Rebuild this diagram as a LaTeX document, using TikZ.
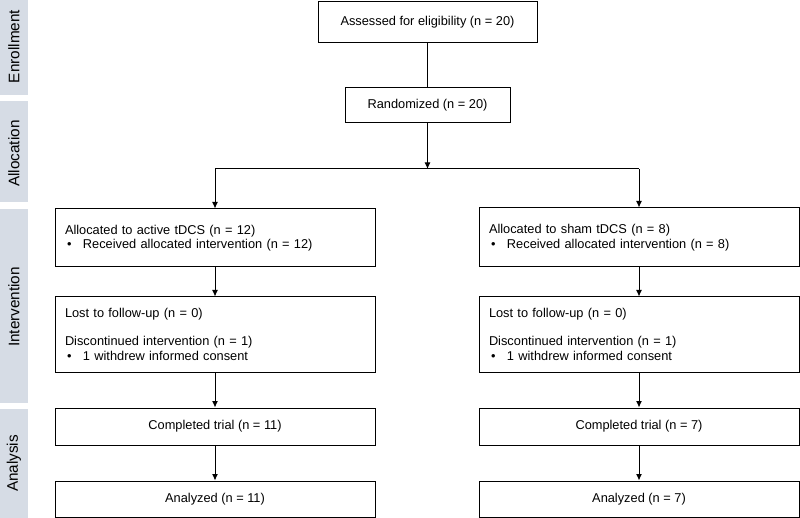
\documentclass[tikz,border=0pt]{standalone}
\usepackage{fontspec}
\setmainfont{Liberation Sans}
\usetikzlibrary{arrows.meta}
\definecolor{bandcol}{RGB}{214,220,229}
\newcommand{\bodyfont}{\fontsize{12.8}{14.5}\selectfont}
\tikzset{
  band/.style={fill=bandcol, draw=none},
  bandlabel/.style={rotate=90, font=\fontsize{15.3}{17}\selectfont},
  box/.style={draw=black, line width=1pt, inner sep=0pt, font=\bodyfont, align=center},
  lbox/.style={box, align=left, text width=300pt, minimum width=320pt},
  arr/.style={line width=1pt, -{Latex[length=6.5pt,width=6pt]}},
  ln/.style={line width=1pt}
}
\newcommand{\bul}{\hspace*{2pt}\makebox[16pt][l]{\textbullet}}
\begin{document}
\begin{tikzpicture}[x=1pt,y=-1pt]
\useasboundingbox (0,0) rectangle (800,518);
% side bands
\fill[band] (0,0) rectangle (28,95);
\fill[band] (0,101) rectangle (28,202);
\fill[band] (0,209) rectangle (28,403);
\fill[band] (0,409) rectangle (28,518);
\node[bandlabel] (lenr) at (14,46.5) {Enrollment};
\node[bandlabel] (lall) at (14,153.5) {Allocation};
\node[bandlabel] (lint) at (14,307) {Intervention};
\node[bandlabel] (lana) at (14,463.5) {Analysis};
% boxes
\node[box, minimum width=219pt, minimum height=41pt] (assess) at (427.5,22.5) {Assessed for eligibility (n = 20)};
\node[box, minimum width=165pt, minimum height=35pt] (rand) at (427.5,105.5) {Randomized (n = 20)};
\coordinate (split) at (427.5,169);
\node[lbox, minimum height=58pt] (a1) at (215,238) {\bodyfont\baselineskip=15pt Allocated to active tDCS (n = 12)\\ \bul Received allocated intervention (n = 12)};
\node[lbox, minimum height=59pt] (a2) at (639,237.5) {\bodyfont\baselineskip=15pt Allocated to sham tDCS (n = 8)\\ \bul Received allocated intervention (n = 8)};
\node[lbox, minimum height=75pt] (l1) at (215,334.5) {\bodyfont\baselineskip=14pt Lost to follow-up (n = 0)\\[14pt] Discontinued intervention (n = 1)\\ \bul 1 withdrew informed consent};
\node[lbox, minimum height=75pt] (l2) at (639,334.5) {\bodyfont\baselineskip=14pt Lost to follow-up (n = 0)\\[14pt] Discontinued intervention (n = 1)\\ \bul 1 withdrew informed consent};
\node[box, minimum width=320pt, minimum height=37pt] (c1) at (215,426.5) {Completed trial (n = 11)};
\node[box, minimum width=320pt, minimum height=37pt] (c2) at (639,426.5) {Completed trial (n = 7)};
\node[box, minimum width=320pt, minimum height=36pt] (n1) at (215,499) {Analyzed (n = 11)};
\node[box, minimum width=320pt, minimum height=36pt] (n2) at (639,499) {Analyzed (n = 7)};
% connectors
\draw[ln] (assess) -- (rand);
\draw[arr] (rand) -- (split);
\draw[ln] (a1.north |- split) -- (a2.north |- split);
\draw[arr] (a1.north |- split) -- (a1.north);
\draw[arr] (a2.north |- split) -- (a2.north);
\draw[arr] (a1) -- (l1);
\draw[arr] (a2) -- (l2);
\draw[arr] (l1) -- (c1);
\draw[arr] (l2) -- (c2);
\draw[arr] (c1) -- (n1);
\draw[arr] (c2) -- (n2);
\end{tikzpicture}
\end{document}
